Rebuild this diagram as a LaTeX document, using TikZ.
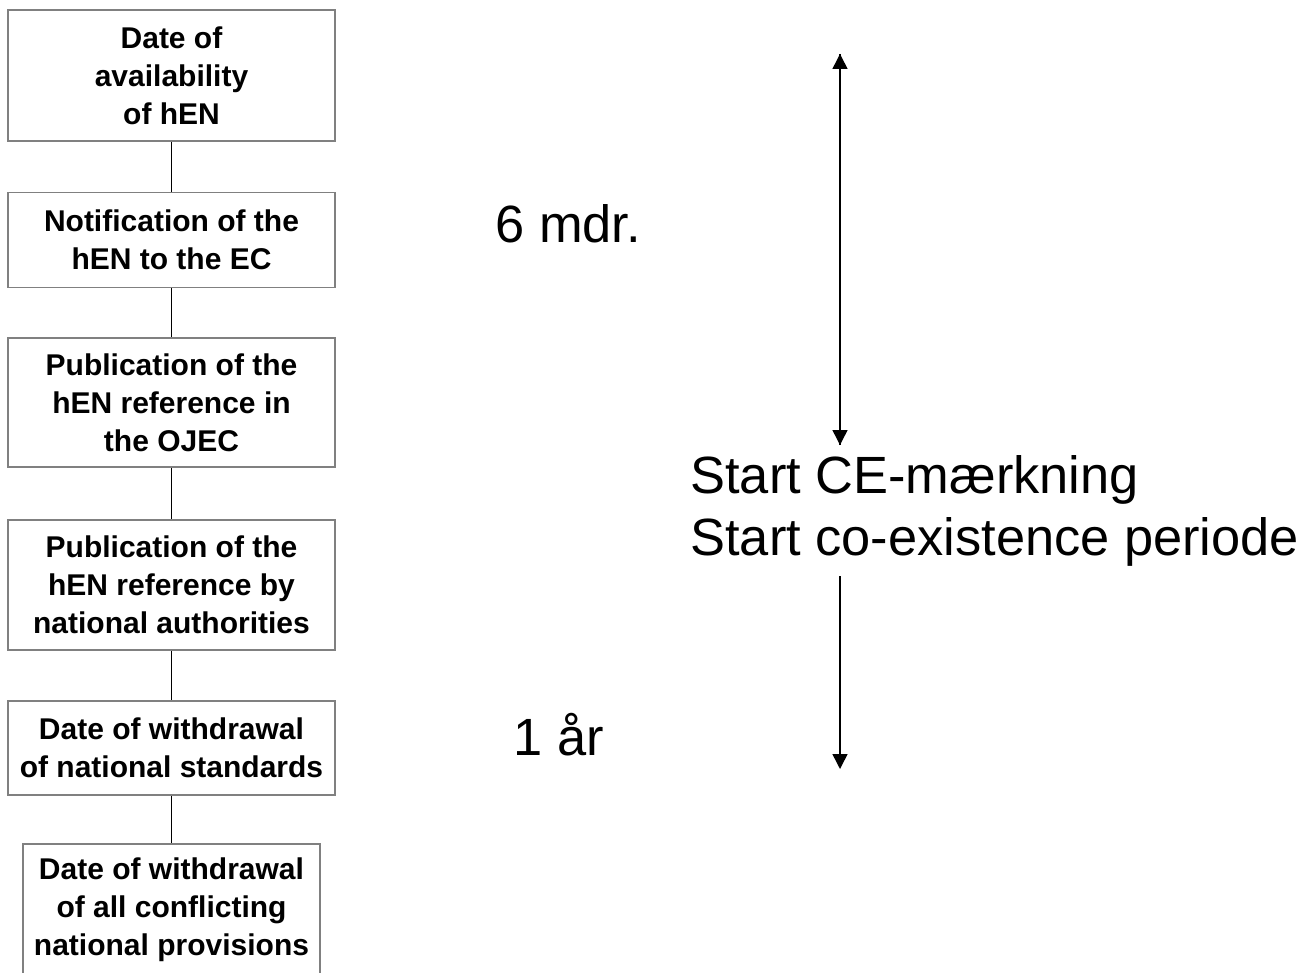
\documentclass[tikz,border=0pt]{standalone}
\usepackage{fontspec}
\setmainfont{Liberation Sans}
\usetikzlibrary{arrows.meta}
\begin{document}
\begin{tikzpicture}[x=0.5pt,y=-0.5pt,
  box/.style={draw=black!50, line width=0.75pt, inner sep=0pt, align=center,
    font=\fontsize{15}{19}\selectfont\bfseries},
  conn/.style={draw=black, line width=0.7pt},
  big/.style={anchor=base west, inner sep=0pt, font=\fontsize{26.2}{31}\selectfont},
  tl/.style={draw=black, line width=0.75pt, -{Triangle[width=7.5pt,length=7.5pt]}}]
\useasboundingbox (0,0) rectangle (1312,973);
\node[box, minimum width=163.5pt, minimum height=65.5pt] (b1) at (171.5,75.5) {Date of\\availability\\of hEN};
\node[box, minimum width=163.5pt, minimum height=47.5pt] (b2) at (171.5,240) {Notification of the\\hEN to the EC};
\node[box, minimum width=163.5pt, minimum height=64.5pt] (b3) at (171.5,402.5) {Publication of the\\hEN reference in\\the OJEC};
\node[box, minimum width=163.5pt, minimum height=65pt] (b4) at (171.5,585) {Publication of the\\hEN reference by\\national authorities};
\node[box, minimum width=163.5pt, minimum height=47pt] (b5) at (171.5,748) {Date of withdrawal\\of national standards};
\node[box, minimum width=148.5pt, minimum height=66pt] (b6) at (171.5,910) {Date of withdrawal\\of all conflicting\\national provisions};
\draw[conn] (b1.south) -- (b2.north);
\draw[conn] (b2.south) -- (b3.north);
\draw[conn] (b3.south) -- (b4.north);
\draw[conn] (b4.south) -- (b5.north);
\draw[conn] (b5.south) -- (b6.north);
\node[big] (t6) at (495,243) {6 mdr.};
\node[big] (t1) at (513,755) {1 år};
\node[big] (s1) at (690,493) {Start CE-mærkning};
\node[big] (s2) at (690,555) {Start co-existence periode};
\coordinate (a1) at (840,54);
\coordinate (a2) at (840,445);
\coordinate (a3) at (840,576);
\coordinate (a4) at (840,769);
\draw[tl] (a2) -- (a1);
\draw[tl] (a1) -- (a2);
\draw[tl] (a3) -- (a4);
\end{tikzpicture}
\end{document}
